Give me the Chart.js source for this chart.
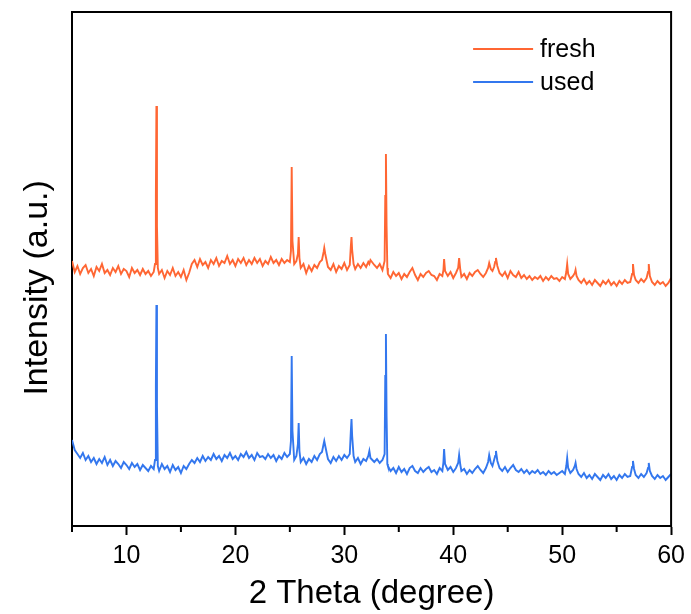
<!DOCTYPE html>
<html>
<head>
<meta charset="utf-8">
<script src="https://cdn.jsdelivr.net/npm/chart.js@4.4.1/dist/chart.umd.min.js"></script>
<style>
  html, body { margin: 0; padding: 0; background: #fff; }
  #wrap { width: 691px; height: 614px; }
</style>
</head>
<body>
<div id="wrap"><canvas id="xrd"></canvas></div>
<script>
// 2 theta positions (degree), shared by both patterns
const twoTheta = [
  5.00,5.25,5.50,5.75,6.00,6.25,6.50,6.75,7.00,7.25,7.50,7.75,8.00,8.25,8.50,8.75,9.00,9.25,9.50,9.75,10.00,10.25,10.50,10.75,11.00,11.25,11.50,11.75,12.00,12.25,12.50,
  12.62,12.70,12.75,12.80,12.88,
  13.00,13.25,13.50,13.75,14.00,14.25,14.50,14.75,15.00,15.25,15.50,15.75,
  16.00,16.25,16.50,16.75,17.00,17.25,17.50,17.75,18.00,18.25,18.50,18.75,19.00,19.25,19.50,19.75,20.00,20.25,20.50,20.75,21.00,21.25,21.50,21.75,22.00,22.25,22.50,22.75,23.00,23.25,23.50,23.75,24.00,24.25,24.50,24.75,25.00,
  25.10,25.17,25.24,25.40,25.60,25.74,25.81,25.88,
  26.00,26.25,26.50,26.75,27.00,27.25,27.50,27.75,
  27.95,28.10,28.16,28.25,28.40,
  28.50,28.75,29.00,29.25,29.50,29.75,30.00,30.25,30.50,
  30.60,30.66,30.72,30.85,
  31.00,31.25,31.50,31.75,32.00,32.20,32.30,32.40,32.75,33.00,33.25,33.50,
  33.70,33.76,33.82,33.88,33.95,
  34.00,34.25,34.50,34.75,35.00,35.25,35.50,35.75,36.00,36.25,36.50,36.75,37.00,37.25,37.50,37.75,38.00,38.25,38.50,38.75,39.00,
  39.10,39.16,39.25,39.50,39.75,40.00,40.25,40.45,40.54,40.65,
  40.75,41.00,41.25,41.50,41.75,42.00,42.25,42.50,42.75,43.00,
  43.20,43.30,43.45,43.60,43.75,43.85,43.92,44.05,
  44.25,44.50,44.75,45.00,45.25,
  45.50,45.75,46.00,46.25,46.50,46.75,47.00,47.25,47.50,47.75,48.00,48.25,48.50,48.75,49.00,49.25,49.50,49.75,50.00,50.25,
  50.38,50.46,50.55,50.75,51.00,51.16,51.23,51.32,
  51.50,51.75,52.00,52.25,52.50,52.75,53.00,53.25,53.50,53.75,54.00,54.25,54.50,54.75,55.00,55.25,55.50,55.75,56.00,56.25,
  56.42,56.50,56.60,56.75,57.00,57.25,57.50,57.75,57.88,57.95,58.05,
  58.25,58.50,58.75,59.00,59.25,59.50,59.75,60.00
];

// intensity (a.u.), fresh pattern plotted with its vertical offset
const fresh = [
  265,254,260,252,258,261,253,257,250,259,255,262,253,256,251,258,254,260,252,257,255,249,258,253,256,251,257,252,255,250,254,
  262,330,420,300,258,
  252,256,248,255,251,258,250,254,249,256,246,253,
  262,266,259,267,261,264,258,266,262,268,260,265,263,270,262,266,260,267,263,268,261,266,262,268,263,267,260,265,262,269,263,266,261,267,263,266,264,
  275,359,285,262,265,272,289,268,
  258,262,253,260,255,261,258,264,
  266,274,278,272,264,
  259,256,262,254,260,257,263,256,261,
  280,289,276,262,
  257,262,258,263,259,264,262,266,261,258,262,256,
  265,330,372,300,258,
  252,248,254,250,253,247,252,249,254,258,251,246,252,249,253,255,251,250,246,252,250,
  256,267,255,250,254,248,253,258,268,256,
  249,252,247,253,250,254,256,252,249,253,
  258,263,257,255,259,264,268,260,
  253,250,254,248,255,
  251,249,254,248,251,247,250,246,249,247,250,245,249,246,250,247,248,245,249,247,
  254,262,252,247,250,253,256,250,
  246,243,247,242,245,241,246,243,240,245,242,246,241,244,240,245,242,246,243,244,
  252,262,251,246,243,247,244,248,254,262,250,
  244,241,245,242,244,240,243,248
];

const used = [
  86,76,72,68,73,66,70,64,68,62,67,63,69,61,66,60,65,62,58,64,61,57,63,59,62,56,61,58,55,60,57,
  66,140,221,120,60,
  55,62,57,60,54,61,56,59,53,60,57,62,
  66,63,68,64,70,65,69,66,72,67,70,65,71,68,73,67,70,66,72,69,74,68,71,66,73,69,70,67,72,68,71,65,70,67,73,69,72,
  85,170,95,66,70,82,103,75,
  64,68,62,67,64,70,66,72,
  74,82,85,80,72,
  67,63,69,65,70,66,71,68,72,
  95,107,90,70,
  64,68,62,67,65,70,75,68,64,67,63,66,
  72,150,192,110,62,
  60,55,58,53,59,54,57,52,58,60,55,53,58,54,57,59,54,56,52,58,55,
  64,77,62,56,59,54,58,63,71,61,
  55,57,52,56,53,57,60,56,53,58,
  64,71,63,60,66,70,75,65,
  58,55,59,54,58,
  61,56,54,57,53,56,52,55,53,56,52,54,51,55,52,54,51,53,55,52,
  60,68,58,53,56,60,63,57,
  52,49,53,48,51,47,52,49,46,51,48,52,47,50,46,51,48,52,49,50,
  59,65,57,51,48,52,49,53,58,63,55,
  50,47,51,48,50,46,49,52
];

const xTicks = [10, 20, 30, 40, 50, 60];
const xMinorTicks = [5, 15, 25, 35, 45, 55];

const FONT = '"Liberation Sans", Arial, sans-serif';

if (fresh.length !== twoTheta.length || used.length !== twoTheta.length) {
  console.error('length mismatch', twoTheta.length, fresh.length, used.length);
}

const toPoints = ys => twoTheta.map((x, i) => ({ x: x, y: ys[i] }));

// top/right frame and the short minor ticks
const framePlugin = {
  id: 'frame',
  afterDraw(chart) {
    const { ctx, chartArea: a, scales: { x } } = chart;
    ctx.save();
    ctx.strokeStyle = '#000';
    ctx.lineWidth = 2;
    ctx.lineCap = 'square';
    ctx.beginPath();
    ctx.moveTo(a.left, a.top);
    ctx.lineTo(a.right, a.top);
    ctx.lineTo(a.right, a.bottom);
    ctx.stroke();
    ctx.lineCap = 'butt';
    ctx.beginPath();
    xMinorTicks.forEach(v => {
      const px = x.getPixelForValue(v);
      ctx.moveTo(px, a.bottom);
      ctx.lineTo(px, a.bottom + 6);
    });
    ctx.stroke();
    ctx.restore();
  }
};

// legend drawn inside the plot, top right
const legendPlugin = {
  id: 'insideLegend',
  afterDraw(chart) {
    const { ctx, chartArea: a } = chart;
    ctx.save();
    ctx.font = '25px ' + FONT;
    ctx.textBaseline = 'middle';
    chart.data.datasets.forEach((ds, i) => {
      const y = a.top + 37 + i * 33;
      ctx.strokeStyle = ds.borderColor;
      ctx.lineWidth = 2;
      ctx.beginPath();
      ctx.moveTo(a.right - 198, y);
      ctx.lineTo(a.right - 138, y);
      ctx.stroke();
      ctx.fillStyle = '#000';
      ctx.fillText(ds.label, a.right - 131, y + 1);
    });
    ctx.restore();
  }
};

new Chart(document.getElementById('xrd'), {
  type: 'line',
  data: {
    datasets: [
      {
        label: 'fresh',
        data: toPoints(fresh),
        borderColor: '#FF6633',
        borderWidth: 1.9,
        pointRadius: 0,
        tension: 0
      },
      {
        label: 'used',
        data: toPoints(used),
        borderColor: '#3377EE',
        borderWidth: 1.9,
        pointRadius: 0,
        tension: 0
      }
    ]
  },
  options: {
    responsive: true,
    maintainAspectRatio: false,
    animation: false,
    layout: { padding: { top: 12, right: 19, left: 0, bottom: 0 } },
    plugins: {
      legend: { display: false },
      tooltip: { enabled: false }
    },
    scales: {
      x: {
        type: 'linear',
        min: 5,
        max: 60,
        afterBuildTicks: s => { s.ticks = xTicks.map(v => ({ value: v })); },
        afterFit: s => { s.height = 88; },
        grid: {
          drawOnChartArea: false,
          drawTicks: true,
          tickLength: 9,
          tickWidth: 2,
          tickColor: '#000'
        },
        border: { display: true, color: '#000', width: 2 },
        ticks: {
          color: '#000',
          padding: 6,
          maxRotation: 0,
          font: { family: FONT, size: 25 }
        },
        title: {
          display: true,
          text: '2 Theta (degree)',
          color: '#000',
          padding: { top: 0, bottom: 0 },
          font: { family: FONT, size: 33 }
        }
      },
      y: {
        type: 'linear',
        min: 0,
        max: 514,
        afterFit: s => { s.width = 72; },
        grid: { display: false },
        border: { display: true, color: '#000', width: 2 },
        ticks: { display: false },
        title: {
          display: true,
          // trailing spaces push the centred title a little lower, as in the original
          text: 'Intensity (a.u.)    ',
          color: '#000',
          padding: { top: 17, bottom: 0 },
          font: { family: FONT, size: 34 }
        }
      }
    }
  },
  plugins: [framePlugin, legendPlugin]
});
</script>
</body>
</html>
